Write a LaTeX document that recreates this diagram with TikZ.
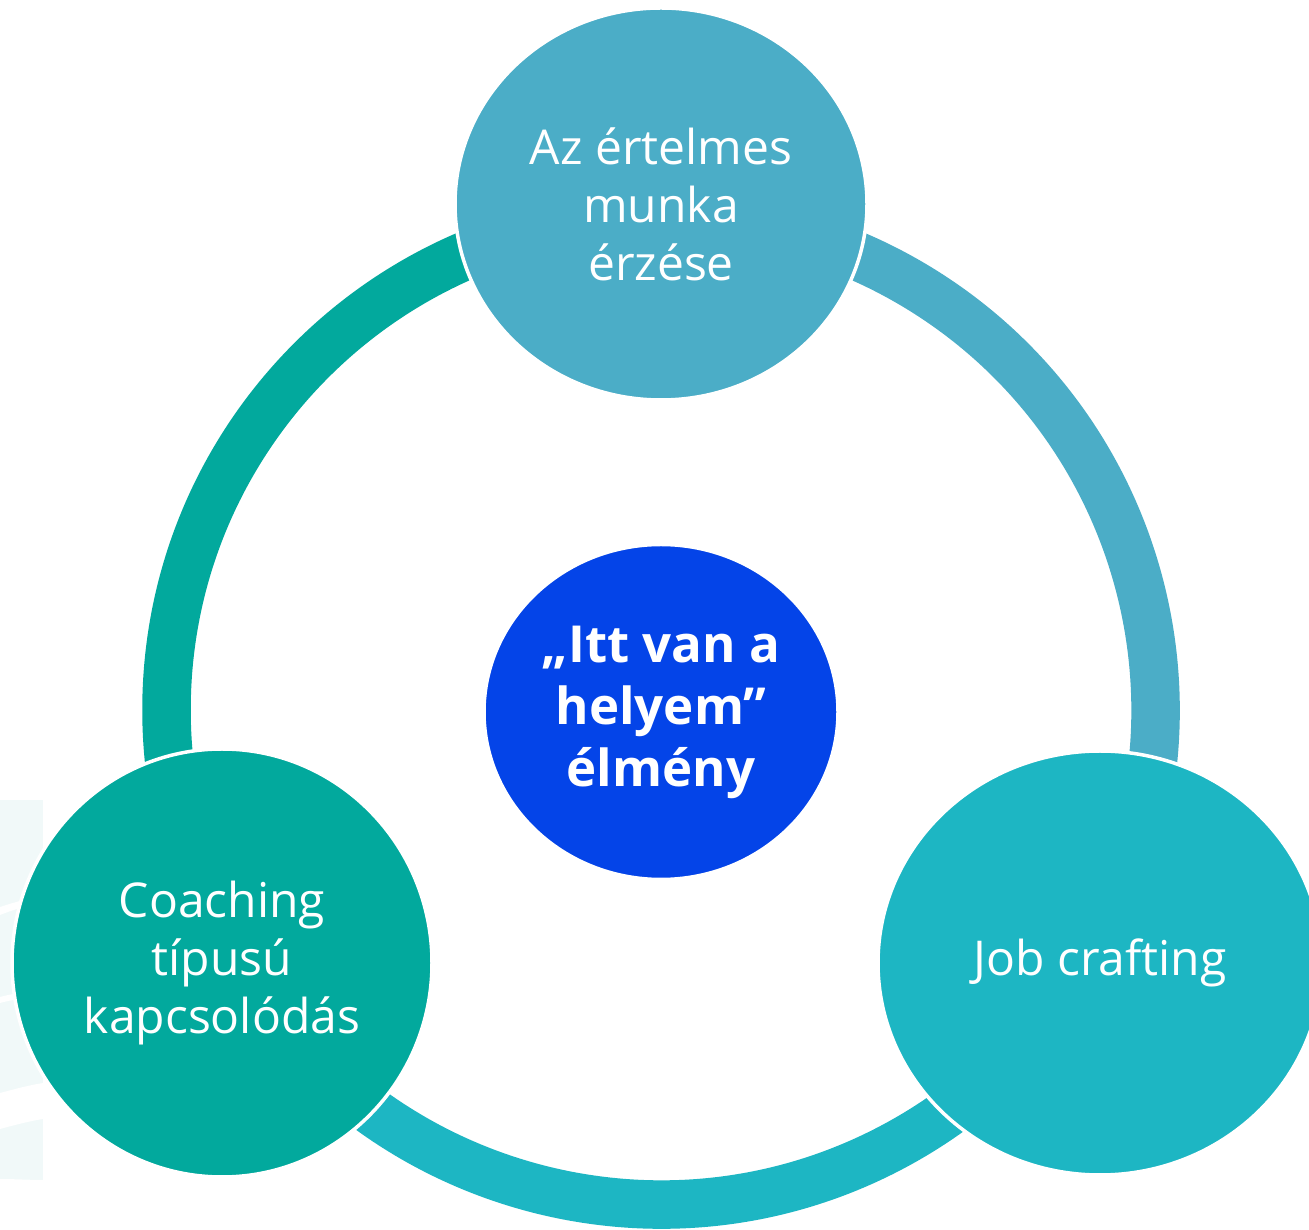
\documentclass[tikz,border=0pt]{standalone}
\usepackage{fontspec}
\setmainfont{Open Sans}
\usetikzlibrary{calc}
\definecolor{cteal}{HTML}{02A99D}
\definecolor{ctop}{HTML}{4BADC7}
\definecolor{ccyan}{HTML}{1DB6C3}
\definecolor{cblue}{HTML}{0444E8}
\definecolor{cfaint}{HTML}{F1F9F9}
\tikzset{
  bub/.style={ellipse, draw=white, line width=3.5pt, text=white, align=center, inner sep=0pt,
    font=\fontsize{48}{58}\selectfont},
  ringarc/.style={line width=48.5pt},
}
\usetikzlibrary{shapes.geometric}
\begin{document}
\begin{tikzpicture}[x=1pt,y=1pt]
\useasboundingbox (0,0) rectangle (1309,1229);
\clip (0,0) rectangle (1309,1229);
\fill[white] (0,0) rectangle (1309,1229);
% faint background shape at the left edge
\fill[cfaint] (0,0) rectangle (43,429);
\fill[white] (0,322) .. controls (15,327) and (30,331) .. (43,333) -- (43,326) .. controls (30,324) and (15,320) .. (0,314) -- cycle;
\fill[white] (0,232) .. controls (15,236) and (30,238) .. (43,238) -- (43,232) .. controls (30,232) and (15,230) .. (0,226) -- cycle;
\fill[white] (0,136) .. controls (15,140) and (30,144) .. (43,146) -- (43,110) .. controls (30,108) and (15,104) .. (0,100) -- cycle;
\fill[white] (0,50) .. controls (15,50) and (30,49) .. (43,49) -- (43,0) -- (0,0) -- cycle;
% ring
\coordinate (ring) at (661,519);
\draw[ringarc, cteal] ($(ring)+(90:494.5)$) arc[start angle=90, end angle=210, radius=494.5];
\draw[ringarc, ctop] ($(ring)+(-30:494.5)$) arc[start angle=-30, end angle=90, radius=494.5];
\draw[ringarc, ccyan] ($(ring)+(210:494.5)$) arc[start angle=210, end angle=330, radius=494.5];
% bubbles
\node[bub, fill=ctop, minimum width=412, minimum height=392] (top) at (661,1025)
  {Az értelmes\\munka\\érzése};
\node[bub, fill=cteal, minimum width=420, minimum height=428] (left) at (222,266)
  {Coaching\\típusú\\kapcsolódás};
\node[bub, fill=ccyan, minimum width=444, minimum height=424] (right) at (1100,266)
  {Job crafting};
\node[bub, fill=cblue, minimum width=354, minimum height=335,
  font=\fontsize{51}{62}\selectfont\bfseries] (center) at (661,517)
  {„Itt van a\\helyem”\\élmény};
\end{tikzpicture}
\end{document}
